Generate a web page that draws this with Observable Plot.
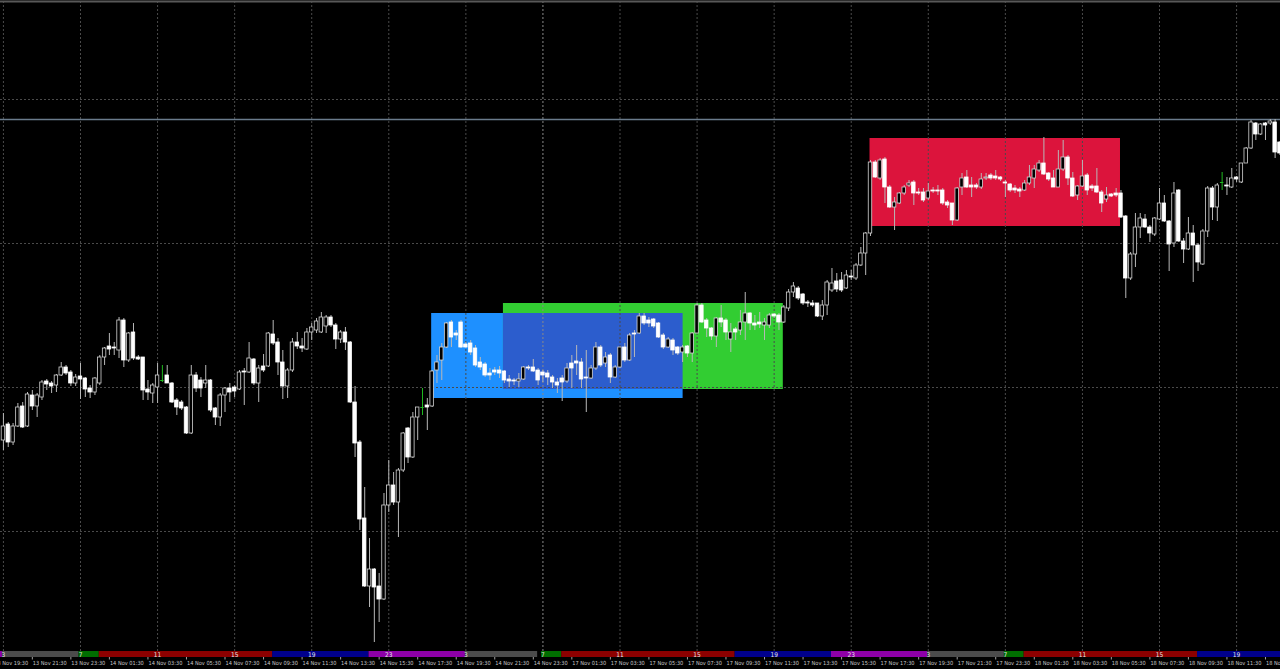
<!DOCTYPE html>
<html>
<head>
<meta charset="utf-8">
<script src="https://cdn.jsdelivr.net/npm/d3@7"></script>
<script src="https://cdn.jsdelivr.net/npm/@observablehq/plot@0.6"></script>
<style>
html, body { margin: 0; padding: 0; background: #000; overflow: hidden; }
#chart svg { display: block; }
</style>
</head>
<body>
<div id="chart"></div>
<script>
// ---------- DATA (15-minute candles, index 0 = 14 Nov 00:00 server time) ----------
const firstIndex = -16;

const open = [
  260,276,258,274,294,274,305,294,303,319,
  317,315,325,333,328,317,324,322,312,308,
  317,343,354,353,350,380,340,368,343,343,
  311,307,313,320,325,317,300,298,293,267,
  325,320,317,320,292,283,305,312,313,311,
  329,328,341,317,334,334,366,358,338,314,
  330,358,354,351,368,370,368,374,383,375,
  361,368,358,298,258,182,114,131,114,101,
  195,215,198,230,272,243,283,293,295,294,
  330,340,353,378,367,378,356,357,352,338,
  336,327,330,330,329,321,320,319,321,333,
  333,330,328,327,323,318,322,319,337,339,
  338,323,322,332,353,337,345,323,333,353,
  340,367,367,384,380,381,377,365,353,360,
  353,348,354,347,367,395,380,372,364,382,
  380,361,371,370,378,387,377,378,375,375,
  386,385,378,392,408,412,406,398,397,397,
  384,395,410,419,420,412,424,422,435,447,
  467,538,522,541,513,493,497,507,515,518,
  508,508,502,510,510,510,498,497,480,513,
  523,515,515,513,522,525,524,523,518,516,
  512,511,510,517,522,530,537,527,522,513,
  531,543,522,505,514,525,514,514,508,501,
  506,507,507,484,422,446,473,481,473,466,
  481,497,479,457,510,459,451,467,455,436,
  469,512,493,518,515,513,523,518,537,552,
  577,566,577,577,578,558
];
const high = [
  287,278,277,297,298,308,310,307,320,321,
  319,326,338,335,330,326,337,323,315,323,
  345,353,367,358,383,382,368,377,345,343,
  320,317,337,335,335,318,302,300,294,335,
  328,323,335,321,293,307,313,317,315,330,
  332,358,342,335,346,368,380,362,350,332,
  362,368,362,372,377,382,388,385,385,377,
  370,373,359,314,260,213,162,132,127,207,
  240,228,232,268,273,288,293,312,302,330,
  345,357,378,380,370,380,358,360,355,343,
  338,332,333,334,330,325,322,327,334,335,
  341,332,330,330,325,322,325,337,345,355,
  342,350,335,358,355,348,347,335,353,357,
  367,370,387,387,383,382,378,367,363,362,
  354,355,355,368,397,397,382,373,383,395,
  382,377,373,390,408,388,385,388,382,387,
  387,387,395,411,418,414,407,400,400,397,
  400,420,432,427,428,430,430,437,453,468,
  540,540,542,543,515,503,508,515,520,520,
  512,512,517,513,515,512,500,497,513,527,
  530,523,517,527,527,527,530,524,520,517,
  515,513,520,535,535,540,563,528,530,550,
  560,545,528,515,540,527,516,532,510,513,
  507,512,510,485,448,487,487,486,475,483,
  512,505,480,518,511,462,483,475,457,471,
  514,514,517,528,523,532,524,537,553,580,
  578,577,578,581,581,559
];
const low = [
  250,253,255,273,272,273,290,283,300,310,
  307,308,324,325,314,314,301,303,302,305,
  315,335,345,345,342,333,338,340,340,300,
  300,297,297,318,317,297,285,290,266,266,
  308,303,312,288,275,274,288,298,303,310,
  295,327,315,298,328,333,355,325,301,302,
  328,351,348,350,360,367,367,367,373,351,
  357,350,297,243,170,113,93,58,78,100,
  188,195,163,228,237,242,260,285,270,293,
  317,320,352,353,360,352,352,345,333,330,
  323,320,325,322,317,313,315,313,320,330,
  328,315,318,315,312,307,299,317,312,325,
  312,288,321,330,333,333,317,322,332,338,
  339,343,366,375,373,372,362,351,352,345,
  345,338,343,338,367,377,363,360,353,373,
  360,348,360,365,360,370,370,372,360,372,
  382,370,377,389,403,400,395,393,393,383,
  380,385,408,408,408,411,420,420,434,425,
  464,522,520,497,492,470,496,505,513,495,
  505,498,500,507,505,495,492,475,479,505,
  512,503,511,511,520,520,520,519,503,508,
  507,503,509,515,512,528,525,519,513,513,
  529,515,503,500,513,505,509,507,488,498,
  503,503,482,402,420,433,462,472,458,464,
  480,478,429,453,458,437,450,418,429,435,
  463,480,479,510,505,512,518,517,537,551,
  560,565,560,575,542,545
];
const close = [
  274,258,274,293,273,306,294,305,318,316,
  314,325,333,327,317,323,321,311,308,322,
  343,352,351,352,380,340,367,342,341,310,
  308,315,325,320,317,298,293,292,267,325,
  312,312,320,290,283,305,312,308,309,328,
  328,342,317,332,330,367,357,338,314,330,
  358,354,352,368,373,379,383,383,375,361,
  368,358,298,257,181,114,131,113,101,195,
  215,198,230,267,243,283,293,293,293,329,
  338,353,377,363,365,353,353,348,335,333,
  325,325,328,327,320,319,319,321,333,332,
  329,320,325,323,318,315,318,332,332,337,
  321,322,332,353,335,343,323,333,353,340,
  365,366,384,377,377,374,363,353,361,350,
  347,353,347,367,395,378,372,364,382,378,
  368,368,368,378,387,377,375,376,378,385,
  384,378,393,408,414,402,397,397,395,384,
  395,418,417,411,410,425,423,435,447,467,
  538,523,540,513,493,498,507,513,517,507,
  507,500,509,509,509,497,495,480,512,522,
  513,513,513,521,523,522,522,521,517,510,
  510,509,517,523,531,537,526,521,513,531,
  543,522,504,514,524,510,512,508,497,505,
  504,505,483,422,446,473,482,473,467,482,
  497,479,456,507,459,451,467,455,438,469,
  512,493,515,518,514,522,521,537,552,578,
  566,576,575,579,548,547
];

// drawn boxes (candle index span, price span)
const boxName = ["blue", "green", "red"];
const boxFrom = [72.9, 87.8, 163.9];
const boxTo   = [125.1, 145.9, 215.9];
const boxLow  = [302, 311, 474];
const boxHigh = [387, 397, 562];

// horizontal level line
const levelPrice = 581;

// price grid levels
const priceGrid = [169, 313, 457, 601];

// session bar (candle index spans)
const segFrom = [-16.7, -16.2, -0.3, 3.9, 39.9, 59.9, 79.9, 95.7, 99.9, 135.9, 155.9, 175.9, 191.8, 195.9, 231.9];
const segTo   = [-16.2, -0.3, 3.9, 39.9, 59.9, 79.9, 94.9, 99.9, 135.9, 155.9, 175.9, 191.8, 195.9, 231.9, 249.6];
const segName = ["late","quiet","open","asia","europe","late","quiet","open","asia","europe","late","quiet","open","asia","europe"];

// 4-hour grid + hour labels
const hourIdx  = [-16, 0, 16, 32, 48, 64, 80, 96, 112, 128, 144, 160, 176, 192, 208, 224, 240];
const hourText = ["3","7","11","15","19","23","3","7","11","15","19","23","3","7","11","15","19"];
const weekSeparator = 96;

// time axis labels
const timeIdx = [-18,-10,-2,6,14,22,30,38,46,54,62,70,78,86,94,102,110,118,126,134,142,150,158,166,174,182,190,198,206,214,222,230,238,246];
const timeText = [
  "13 Nov 19:30","13 Nov 21:30","13 Nov 23:30","14 Nov 01:30","14 Nov 03:30","14 Nov 05:30",
  "14 Nov 07:30","14 Nov 09:30","14 Nov 11:30","14 Nov 13:30","14 Nov 15:30","14 Nov 17:30",
  "14 Nov 19:30","14 Nov 21:30","14 Nov 23:30","17 Nov 01:30","17 Nov 03:30","17 Nov 05:30",
  "17 Nov 07:30","17 Nov 09:30","17 Nov 11:30","17 Nov 13:30","17 Nov 15:30","17 Nov 17:30",
  "17 Nov 19:30","17 Nov 21:30","17 Nov 23:30","18 Nov 01:30","18 Nov 03:30","18 Nov 05:30",
  "18 Nov 07:30","18 Nov 09:30","18 Nov 11:30","18 Nov 13:30"
];

// ---------- STYLE / LAYOUT ----------
const W = 1280, H = 669;
const xDomain = [-16.608, 249.117];
const yDomain = [31, 700];
const vAt = px => yDomain[1] - (px / H) * (yDomain[1] - yDomain[0]); // pixel row -> price unit (layout only)

const boxColor = { blue: "#1e90ff", green: "#32cd32", red: "#dc143c", overlap: "#2c5dcd" };
const segColor = { late: "#8e00a8", quiet: "#4b4b4b", open: "#006e00", asia: "#8c0000", europe: "#00008c" };

const candles = open.map((o, i) => ({ k: firstIndex + i, o, h: high[i], l: low[i], c: close[i] }));
const bodies = candles.filter(d => d.o !== d.c);
const dojis = candles.filter(d => d.o === d.c);

const boxes = boxName.map((n, i) => ({ n, x1: boxFrom[i], x2: boxTo[i], y1: boxLow[i], y2: boxHigh[i] }));
const overlap = {
  n: "overlap",
  x1: Math.max(boxes[0].x1, boxes[1].x1), x2: Math.min(boxes[0].x2, boxes[1].x2),
  y1: Math.max(boxes[0].y1, boxes[1].y1), y2: Math.min(boxes[0].y2, boxes[1].y2)
};
const segments = segName.map((n, i) => ({ n, x1: segFrom[i], x2: segTo[i] }));
const hours = hourIdx.map((k, i) => ({ k, t: hourText[i] }));
const times = timeIdx.map((k, i) => ({ k, t: timeText[i] }));

const barTop = vAt(651), barBottom = vAt(657);
const smallFont = "'Liberation Sans Narrow', 'DejaVu Sans Condensed', Roboto, sans-serif";
const halfBody = 0.36;

const chart = Plot.plot({
  width: W,
  height: H,
  margin: 0,
  x: { type: "linear", domain: xDomain, axis: null },
  y: { type: "linear", domain: yDomain, axis: null },
  style: { background: "#000", color: "#fff", overflow: "hidden" },
  marks: [
    Plot.rect(boxes, { x1: "x1", x2: "x2", y1: "y1", y2: "y2", fill: d => boxColor[d.n] }),
    Plot.rect([overlap], { x1: "x1", x2: "x2", y1: "y1", y2: "y2", fill: boxColor.overlap }),
    Plot.ruleY(priceGrid, { stroke: "#4a4a4a", strokeDasharray: "2,2", strokeWidth: 1 }),
    Plot.ruleX(hourIdx.filter(k => k !== weekSeparator), { y1: barTop, y2: yDomain[1], stroke: "#4a4a4a", strokeDasharray: "2,2", strokeWidth: 1 }),
    Plot.ruleX([weekSeparator], { y1: barTop, y2: yDomain[1], stroke: "#8a8a8a", strokeDasharray: "2,2", strokeWidth: 1 }),
    Plot.ruleY([levelPrice], { stroke: "#6a7b8c", strokeWidth: 1.6 }),
    // wicks
    Plot.ruleX(bodies, { x: "k", y1: "l", y2: "h", stroke: "#b8b8b8", strokeWidth: 1 }),
    // bodies
    Plot.rect(bodies, {
      x1: d => d.k - halfBody, x2: d => d.k + halfBody,
      y1: "o", y2: "c",
      fill: d => d.c > d.o ? "#000" : "#fff",
      stroke: d => d.c > d.o ? "#d4d4d4" : "#fff",
      strokeWidth: 0.8
    }),
    // doji candles
    Plot.ruleX(dojis, { x: "k", y1: "l", y2: "h", stroke: "#1fb81f", strokeWidth: 1 }),
    Plot.ruleY(dojis, { y: "o", x1: d => d.k - halfBody, x2: d => d.k + halfBody, stroke: "#1fb81f", strokeWidth: 1 }),
    // session bar
    Plot.rect(segments, { x1: "x1", x2: "x2", y1: barBottom, y2: barTop, fill: d => segColor[d.n] }),
    Plot.text(hours, { x: "k", y: vAt(654), text: "t", fill: "#e6e6e6", fontSize: 6.5, fontFamily: smallFont }),
    // time axis
    Plot.ruleX(timeIdx, { y1: vAt(657), y2: vAt(659.5), stroke: "#a0a0a0", strokeWidth: 1 }),
    Plot.text(times, { x: "k", y: vAt(663), text: "t", textAnchor: "start", dx: 0.5, fill: "#c8c8c8", fontSize: 5.6, fontFamily: smallFont }),
    // window top border
    Plot.ruleY([vAt(1)], { stroke: "#585858", strokeWidth: 2 })
  ]
});

document.getElementById("chart").appendChild(chart);
</script>
</body>
</html>
